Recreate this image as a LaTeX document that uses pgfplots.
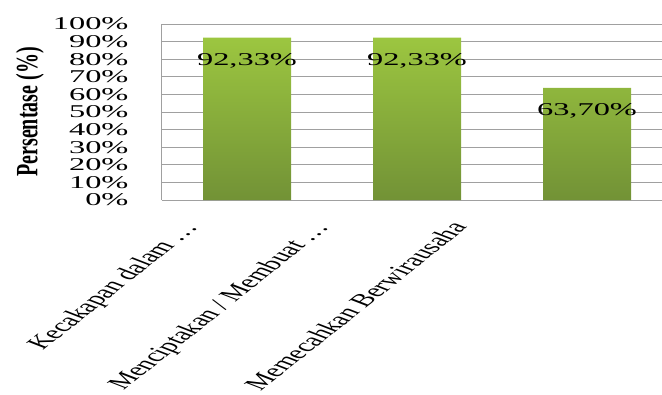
\documentclass[border=0pt]{standalone}
\usepackage{fontspec}
\setmainfont{Liberation Serif}
\usepackage{graphicx}
\usepackage{pgfplots}
\pgfplotsset{compat=1.18}
\definecolor{gridgray}{HTML}{A0A0A0}
\definecolor{bartop}{HTML}{9CC640}
\definecolor{barbot}{HTML}{729236}
\newcommand{\sx}[1]{\scalebox{1.8}[1]{#1}}
\begin{document}
\begin{tikzpicture}
\begin{axis}[
  scale only axis,
  width=500pt, height=176pt,
  xmin=-0.5, xmax=2.441,
  ymin=0, ymax=100,
  ytick={0,10,...,100},
  ymajorgrids,
  grid style={gridgray, line width=1pt},
  axis line style={gridgray, line width=1pt},
  axis x line*=bottom,
  axis y line*=left,
  major tick length=0pt,
  /pgf/number format/assume math mode=true,
  yticklabel={\sx{\fontsize{18}{18}\selectfont\pgfmathprintnumber{\tick}\%}},
  yticklabel style={xshift=-30pt},
  xtick={-0.25,0.52,1.30},
  xticklabels={
    {\sx{\rotatebox{55}{\fontsize{18}{18}\selectfont Kecakapan dalam \dots}}},
    {\sx{\rotatebox{55}{\fontsize{18}{18}\selectfont Menciptakan / Membuat \dots}}},
    {\sx{\rotatebox{55}{\fontsize{18}{18}\selectfont Memecahkan Berwirausaha}}}},
  xticklabel style={anchor=north east, inner sep=0pt, yshift=-20pt},
  ylabel={\scalebox{1}[1.55]{\fontsize{20}{20}\selectfont\bfseries Persentase (\%)}},
  ylabel style={yshift=2pt},
  ybar, bar width=88pt,
  nodes near coords={\sx{\fontsize{18}{18}\selectfont\pgfmathprintnumber[fixed,fixed zerofill,precision=2,use comma]{\pgfplotspointmeta}\%}},
  every node near coord/.append style={anchor=center, yshift=-23pt, text=black},
  clip=false,
]
\addplot[draw=none, top color=bartop, bottom color=barbot] coordinates {(0,92.33) (1,92.33) (2,63.70)};
\end{axis}
\pgfresetboundingbox
\path[use as bounding box] (-162pt,-194pt) rectangle (500pt,200pt);
\end{tikzpicture}
\end{document}
